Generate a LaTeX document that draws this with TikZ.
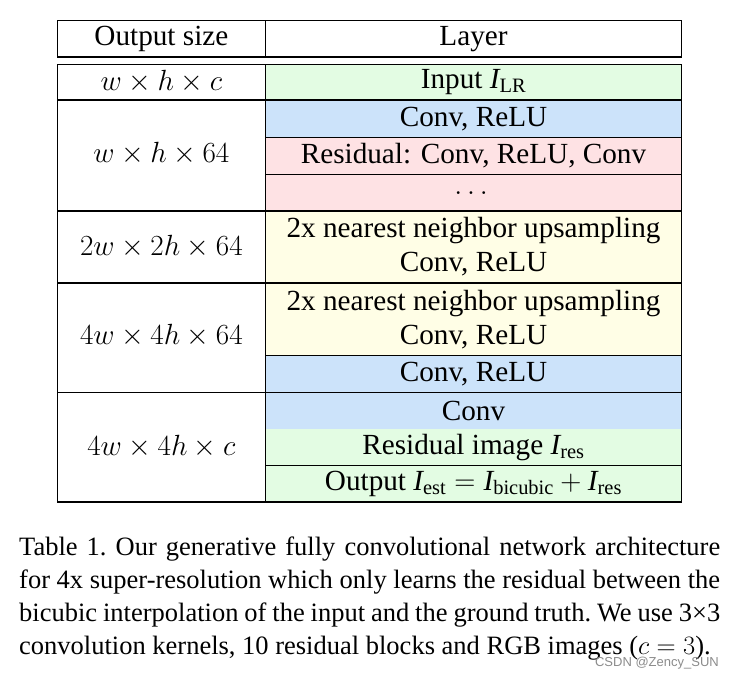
\RequirePackage{fix-cm}
\documentclass[tikz,border=0pt]{standalone}
\usepackage{amsmath}
\usepackage{fontspec}
\setmainfont{Liberation Serif}
\newfontfamily\wmfont{Liberation Sans}
\definecolor{cgreen}{RGB}{227,252,227}
\definecolor{cblue}{RGB}{204,227,250}
\definecolor{cpink}{RGB}{254,226,228}
\definecolor{cyellow}{RGB}{255,254,230}
\newcommand{\tabfont}{\fontsize{29.2}{34}\selectfont}
\newcommand{\capfont}{\fontsize{26.5}{33}\selectfont\frenchspacing}
\newcommand{\Isub}[1]{\textit{I}_{\text{#1}}}
\begin{document}
\begin{tikzpicture}[x=1pt,y=-1pt,
  cellR/.style={minimum width=416.4pt, inner sep=0pt, outer sep=0pt, align=center, font=\tabfont},
  cellL/.style={inner sep=0pt, outer sep=0pt, font=\tabfont},
  rule/.style={line width=1.5pt, line cap=rect}]
\useasboundingbox (0,0) rectangle (733,678);
\fill[white] (0,0) rectangle (733,678);

% header
\node[cellL] (hOut) at (161.4,38.8) {Output size};
\node[cellL] (hLay) at (473.5,38.8) {Layer};
\draw[rule] (57.5,20.7) rectangle (681.7,57);
\draw[rule] (265.3,20.7) -- (265.3,57);

% right column cells
\node[cellR, fill=cgreen, minimum height=35.7pt] (rin) at (473.5,82.15) {Input $\Isub{LR}$};
\node[cellR, fill=cblue, minimum height=37.3pt] (rc1) at (473.5,118.65) {Conv, ReLU};
\node[cellR, fill=cpink, minimum height=37pt] (rres) at (473.5,155.8) {Residual: Conv, ReLU, Conv};
\node[cellR, fill=cpink, minimum height=36.7pt] (rdots) at (473.5,192.65) {$\dots$};
\node[cellR, fill=cyellow, minimum height=72pt] (rup1) at (473.5,247) {2x nearest neighbor upsampling\\Conv, ReLU};
\node[cellR, fill=cyellow, minimum height=72.3pt] (rup2) at (473.5,319.15) {2x nearest neighbor upsampling\\Conv, ReLU};
\node[cellR, fill=cblue, minimum height=37pt] (rc2) at (473.5,373.8) {Conv, ReLU};
\node[cellR, fill=cblue, minimum height=36.7pt] (rconv) at (473.5,410.65) {Conv};
\node[cellR, fill=cgreen, minimum height=36.7pt] (rimg) at (473.5,447.35) {Residual image $\Isub{res}$};
\node[cellR, fill=cgreen, minimum height=36.3pt] (rout) at (473.5,483.85) {Output $\Isub{est}=\Isub{bicubic}+\Isub{res}$};

% left column cells
\node[cellL] (lA) at (161.4,82) {$w\times h\times c$};
\node[cellL] (lB) at (161.4,154) {$w\times h\times 64$};
\node[cellL] (lC) at (161.4,247) {$2w\times 2h\times 64$};
\node[cellL] (lD) at (161.4,335.5) {$4w\times 4h\times 64$};
\node[cellL] (lE) at (161.4,446.5) {$4w\times 4h\times c$};

% body rules
\draw[rule] (57.5,64.3) rectangle (681.7,502);
\draw[rule] (265.3,64.3) -- (265.3,502);
\foreach \yy in {100,211,283,392.3} \draw[rule] (57.5,\yy) -- (681.7,\yy);
\foreach \yy in {137.3,174.3,355.3,465.7} \draw[rule] (265.3,\yy) -- (681.7,\yy);

% caption
\node[anchor=north west, text width=701pt, inner sep=0pt, align=justify, font=\capfont] (cap) at (19,537)
{Table 1. Our generative fully convolutional network architecture\linebreak
for 4x super-resolution which only learns the residual between the\linebreak
bicubic interpolation of the input and the ground truth. We use 3×3\linebreak
convolution kernels, 10 residual blocks and RGB images ($c = 3$).};

% watermark
\node[anchor=east, inner sep=0pt, font=\wmfont\fontsize{13}{15}\selectfont, text=black!45] (wm) at (719,663) {CSDN @Zency\_SUN};
\end{tikzpicture}
\end{document}
